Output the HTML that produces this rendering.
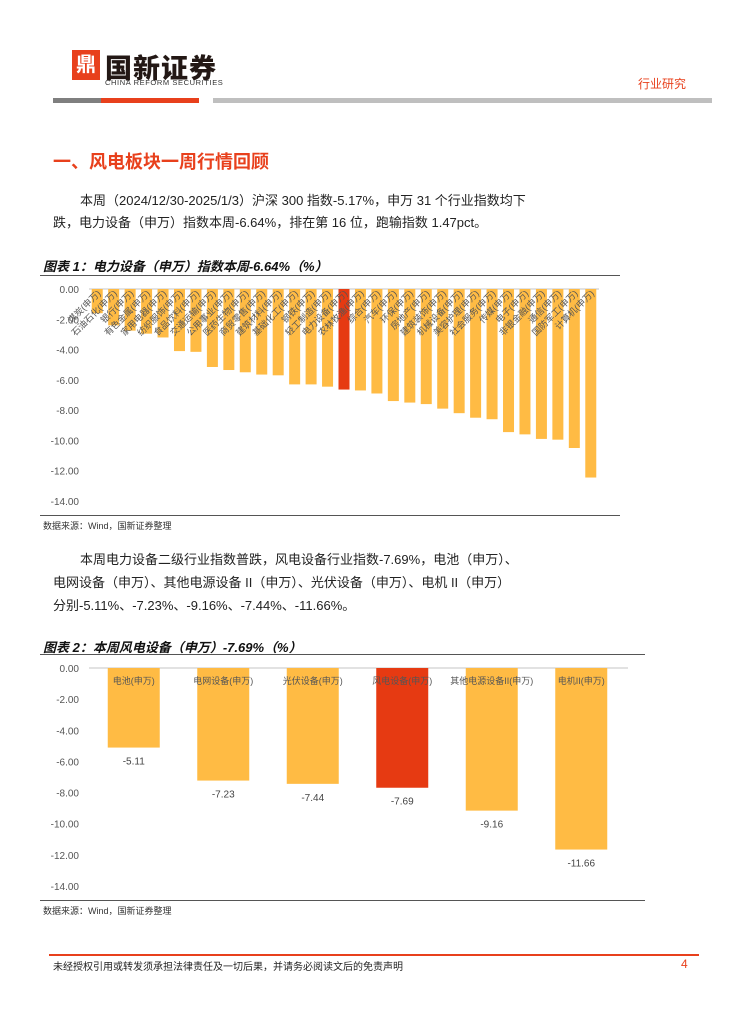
<!DOCTYPE html>
<html><head><meta charset="utf-8">
<style>
body{margin:0;background:#fff;}
#page{position:relative;width:742px;height:1024px;overflow:hidden;font-family:"Liberation Sans","Noto Sans CJK SC",sans-serif;color:#222;}
.abs{position:absolute;white-space:nowrap;}
.p{font-size:13px;color:#222;}
.ft{font-size:13px;font-weight:bold;font-style:italic;color:#111;}
.src{font-size:9px;color:#333;}
</style></head><body>
<div id="page">
  <div class="abs" style="left:72px;top:50px;width:28px;height:30px;background:#e8401c;color:#fff;font-size:20px;font-weight:bold;text-align:center;line-height:30px;">鼎</div>
  <div class="abs" style="left:105px;top:47px;font-size:27px;font-weight:900;color:#231815;letter-spacing:1px;">国新证券</div>
  <div class="abs" style="left:105px;top:78px;font-size:7.5px;color:#333;letter-spacing:0.6px;">CHINA REFORM SECURITIES</div>
  <div class="abs" style="left:53px;top:98px;width:48px;height:5px;background:#7f7f7f;"></div>
  <div class="abs" style="left:101px;top:98px;width:98px;height:5px;background:#e8401c;"></div>
  <div class="abs" style="left:213px;top:98px;width:499px;height:5px;background:#bfbfbf;"></div>
  <div class="abs" style="left:638px;top:75px;font-size:12px;color:#e8401c;">行业研究</div>

  <div class="abs" style="left:53px;top:148px;font-size:18px;font-weight:bold;color:#e8401c;">一、风电板块一周行情回顾</div>
  <div class="abs p" style="left:80px;top:190px;">本周（2024/12/30-2025/1/3）沪深 300 指数-5.17%，申万 31 个行业指数均下</div>
  <div class="abs p" style="left:53px;top:212px;">跌，电力设备（申万）指数本周-6.64%，排在第 16 位，跑输指数 1.47pct。</div>

  <div class="abs ft" style="left:43px;top:256px;">图表 1：电力设备（申万）指数本周-6.64%（%）</div>
  <div class="abs" style="left:40px;top:275px;width:580px;height:1px;background:#555;"></div>
  <svg class="abs" id="chart1" style="left:0;top:0;" width="742" height="520"></svg>
  <div class="abs" style="left:40px;top:515px;width:580px;height:1px;background:#555;"></div>
  <div class="abs src" style="left:43px;top:519px;">数据来源：Wind，国新证券整理</div>

  <div class="abs p" style="left:80px;top:549px;">本周电力设备二级行业指数普跌，风电设备行业指数-7.69%，电池（申万）、</div>
  <div class="abs p" style="left:53px;top:572px;">电网设备（申万）、其他电源设备 II（申万）、光伏设备（申万）、电机 II（申万）</div>
  <div class="abs p" style="left:53px;top:595px;">分别-5.11%、-7.23%、-9.16%、-7.44%、-11.66%。</div>

  <div class="abs ft" style="left:43px;top:637px;">图表 2：本周风电设备（申万）-7.69%（%）</div>
  <div class="abs" style="left:40px;top:654px;width:605px;height:1px;background:#555;"></div>
  <svg class="abs" id="chart2" style="left:0;top:0;" width="742" height="910"></svg>
  <div class="abs" style="left:40px;top:900px;width:605px;height:1px;background:#555;"></div>
  <div class="abs src" style="left:43px;top:904px;">数据来源：Wind，国新证券整理</div>

  <div class="abs" style="left:49px;top:954px;width:650px;height:2px;background:#e8401c;"></div>
  <div class="abs" style="left:53px;top:958px;font-size:10px;color:#222;">未经授权引用或转发须承担法律责任及一切后果，并请务必阅读文后的免责声明</div>
  <div class="abs" style="left:681px;top:957px;font-size:12px;color:#e8401c;">4</div>
</div>
<script>
const NS="http://www.w3.org/2000/svg";
const cats1=["煤炭","石油石化","银行","有色金属","家用电器","纺织服饰","食品饮料","交通运输","公用事业","医药生物","商贸零售","建筑材料","基础化工","钢铁","轻工制造","电力设备","农林牧渔","综合","汽车","环保","房地产","建筑装饰","机械设备","美容护理","社会服务","传媒","电子","非银金融","通信","国防军工","计算机"];
const vals1=[-1.6,-2.4,-2.75,-2.95,-3.2,-4.1,-4.15,-5.15,-5.35,-5.5,-5.65,-5.7,-6.3,-6.3,-6.45,-6.64,-6.7,-6.9,-7.4,-7.5,-7.6,-7.9,-8.2,-8.5,-8.6,-9.45,-9.6,-9.9,-9.95,-10.5,-12.45];
const highlight1="电力设备";
const ticks1=[0,-2,-4,-6,-8,-10,-12,-14];
const tickLabels1=["0.00","-2.00","-4.00","-6.00","-8.00","-10.00","-12.00","-14.00"];
const cats2=["电池(申万)","电网设备(申万)","光伏设备(申万)","风电设备(申万)","其他电源设备II(申万)","电机II(申万)"];
const vals2=[-5.11,-7.23,-7.44,-7.69,-9.16,-11.66];
const highlight2="风电设备(申万)";
const ticks2=[0,-2,-4,-6,-8,-10,-12,-14];
const tickLabels2=["0.00","-2.00","-4.00","-6.00","-8.00","-10.00","-12.00","-14.00"];

function mk(svg,tag,attrs,text){const e=document.createElementNS(NS,tag);for(const k in attrs)e.setAttribute(k,attrs[k]);if(text!==undefined)e.textContent=text;svg.appendChild(e);return e;}

(function(){
  const svg=document.getElementById('chart1');
  const y0=289,yMin=-14,yBot=501,x0=89,x1=599;
  const y=v=>y0+(v/yMin)*(yBot-y0);
  const step=(x1-x0)/cats1.length;
  const x=i=>x0+step*(i+0.5);
  ticks1.forEach((t,i)=>{
    const l=mk(svg,'text',{x:79,y:y(t)+4,'text-anchor':'end','font-size':10,fill:'#555','font-family':'Liberation Sans,sans-serif'},tickLabels1[i]);
    
    
  });
  const ax=mk(svg,'line',{x1:x0,x2:x1,y1:y0,y2:y0,stroke:'#d9d9d9','stroke-width':1.5});
  
  
  vals1.forEach((v,i)=>{
    const r=mk(svg,'rect',{x:x(i)-5.5,y:y0,width:11,height:y(v)-y0,fill:cats1[i]===highlight1?'#e63a12':'#ffbb44'});
    
    
  });
  cats1.forEach((c,i)=>{
    const t=mk(svg,'text',{x:x(i)+4,y:y0+5,'text-anchor':'end','font-size':9,fill:'#555','font-family':'Liberation Sans,Noto Sans CJK SC,sans-serif',transform:`rotate(-45 ${x(i)+4} ${y0+5})`},c+'(申万)');
    
    
  });
})();

(function(){
  const svg=document.getElementById('chart2');
  const y0=668,yMin=-14,yBot=886,x0=89,x1=626;
  const y=v=>y0+(v/yMin)*(yBot-y0);
  const step=(x1-x0)/cats2.length;
  const x=i=>x0+step*(i+0.5);
  ticks2.forEach((t,i)=>{
    const l=mk(svg,'text',{x:79,y:y(t)+4,'text-anchor':'end','font-size':10,fill:'#555','font-family':'Liberation Sans,sans-serif'},tickLabels2[i]);
    
    
  });
  const ax=mk(svg,'line',{x1:x0,x2:x1+2,y1:y0,y2:y0,stroke:'#d9d9d9','stroke-width':1.5});
  
  
  vals2.forEach((v,i)=>{
    const r=mk(svg,'rect',{x:x(i)-26,y:y0,width:52,height:y(v)-y0,fill:cats2[i]===highlight2?'#e63a12':'#ffbb44'});
    
    
    const vl=mk(svg,'text',{x:x(i),y:y(v)+17,'text-anchor':'middle','font-size':10,fill:'#444','font-family':'Liberation Sans,sans-serif'},v.toFixed(2));
    
    
    const cl=mk(svg,'text',{x:x(i),y:y0+16,'text-anchor':'middle','font-size':9,fill:'#555','font-family':'Liberation Sans,Noto Sans CJK SC,sans-serif'},cats2[i]);
    
    
  });
})();
</script>
</body></html>
